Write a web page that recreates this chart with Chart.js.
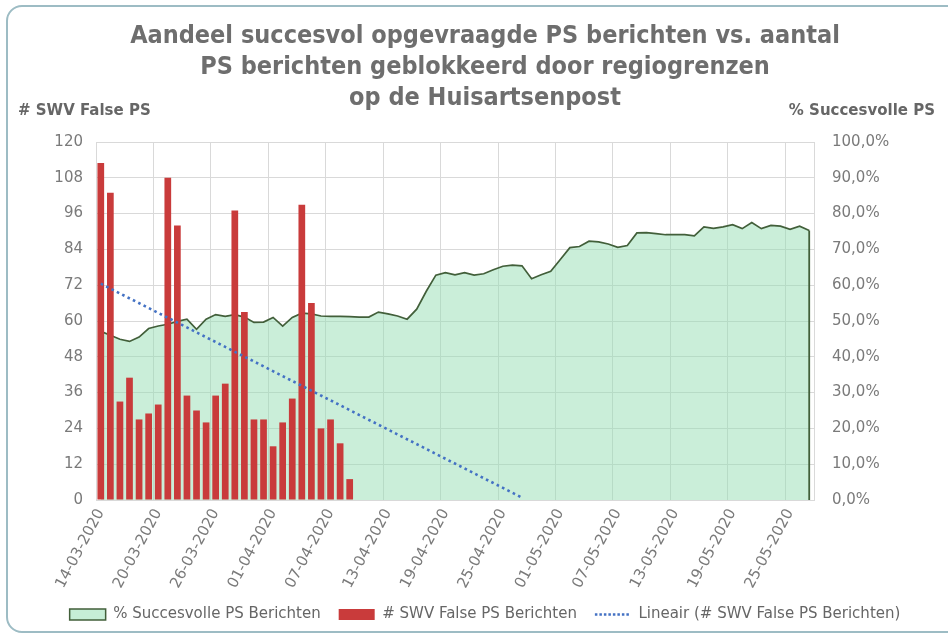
<!DOCTYPE html>
<html><head><meta charset="utf-8">
<script src="https://cdn.jsdelivr.net/npm/chart.js@4.4.1/dist/chart.umd.min.js"></script>
<style>
html,body{margin:0;padding:0;background:#fff;overflow:hidden;}
#wrap{position:relative;width:948px;height:638px;overflow:hidden;}
#frame{position:absolute;left:6px;top:5px;width:970px;height:628px;border:2px solid #9dbcc4;border-radius:16px;box-sizing:border-box;}
canvas{position:absolute;left:0;top:0;}
</style></head>
<body><div id="wrap"><div id="frame"></div><canvas id="c" width="948" height="638"></canvas></div>
<script>
const titleLines = ["Aandeel succesvol opgevraagde PS berichten vs. aantal", "PS berichten geblokkeerd door regiogrenzen", "op de Huisartsenpost"];
const axisTitles = ["# SWV False PS", "% Succesvolle PS"];
const seriesLabels = ["% Succesvolle PS Berichten", "# SWV False PS Berichten", "Lineair (# SWV False PS Berichten)"];
const dates = [
 "14-03-2020","15-03-2020","16-03-2020","17-03-2020","18-03-2020","19-03-2020","20-03-2020","21-03-2020","22-03-2020","23-03-2020",
 "24-03-2020","25-03-2020","26-03-2020","27-03-2020","28-03-2020","29-03-2020","30-03-2020","31-03-2020","01-04-2020","02-04-2020",
 "03-04-2020","04-04-2020","05-04-2020","06-04-2020","07-04-2020","08-04-2020","09-04-2020","10-04-2020","11-04-2020","12-04-2020",
 "13-04-2020","14-04-2020","15-04-2020","16-04-2020","17-04-2020","18-04-2020","19-04-2020","20-04-2020","21-04-2020","22-04-2020",
 "23-04-2020","24-04-2020","25-04-2020","26-04-2020","27-04-2020","28-04-2020","29-04-2020","30-04-2020","01-05-2020","02-05-2020",
 "03-05-2020","04-05-2020","05-05-2020","06-05-2020","07-05-2020","08-05-2020","09-05-2020","10-05-2020","11-05-2020","12-05-2020",
 "13-05-2020","14-05-2020","15-05-2020","16-05-2020","17-05-2020","18-05-2020","19-05-2020","20-05-2020","21-05-2020","22-05-2020",
 "23-05-2020","24-05-2020","25-05-2020","26-05-2020","27-05-2020"
];
const swvFalse = [113,103,33,41,27,29,32,108,92,35,30,26,35,39,97,63,27,27,18,26,34,99,66,24,27,19,7];
const pctSucces = [
 47.1,46.0,44.9,44.3,45.5,47.9,48.6,49.1,49.9,50.5,
 47.7,50.5,51.8,51.3,51.8,51.1,49.6,49.7,51.0,48.6,
 51.0,52.2,52.0,51.4,51.3,51.3,51.2,51.1,51.1,52.5,
 52.0,51.4,50.5,53.3,58.3,62.8,63.5,62.9,63.5,62.8,
 63.2,64.3,65.3,65.6,65.4,61.8,62.9,63.9,67.2,70.5,
 70.8,72.3,72.1,71.5,70.6,71.1,74.6,74.7,74.4,74.1,
 74.1,74.1,73.8,76.3,75.9,76.3,76.9,75.8,77.5,75.8,
 76.7,76.5,75.6,76.5,75.3
];
// trend line: value on the first day and value at day 44 (near zero)
const trendIdx = [0, 44];
const trendVal = [72.5, 0.8];
const tickEvery = 6;

const barData = dates.map((d, i) => (i < swvFalse.length ? swvFalse[i] : null));
const trendData = dates.map(() => null);
trendIdx.forEach((k, j) => { trendData[k] = trendVal[j]; });

const FONT = '"DejaVu Sans", Verdana, sans-serif';
const TXT = '#7a7a7a';
const GRID = '#d9d9d9';
const LINE_GREEN = '#425f3a';

const extras = {
  id: 'extras',
  afterDatasetDraw(chart, args) {
    if (args.index !== 0) return;
    const pts = args.meta.data;
    const last = pts[pts.length - 1];
    const y0 = chart.scales.y1.getPixelForValue(0);
    const ctx = chart.ctx;
    ctx.save();
    ctx.strokeStyle = LINE_GREEN; ctx.lineWidth = 1.8;
    ctx.beginPath(); ctx.moveTo(last.x, last.y); ctx.lineTo(last.x, y0); ctx.stroke();
    ctx.restore();
  },
  afterDraw(chart) {
    const ctx = chart.ctx;
    ctx.save();
    ctx.font = 'bold 15px ' + FONT;
    ctx.fillStyle = '#666666';
    ctx.textBaseline = 'middle';
    ctx.textAlign = 'left'; ctx.fillText(axisTitles[0], 18, 111);
    ctx.textAlign = 'right'; ctx.fillText(axisTitles[1], 935, 111);
    ctx.restore();
  }
};

new Chart(document.getElementById('c'), {
  data: {
    labels: dates,
    datasets: [
      { type: 'line', label: seriesLabels[0], data: pctSucces, yAxisID: 'y1', order: 3,
        fill: 'origin', backgroundColor: 'rgba(150,222,180,0.5)', borderColor: LINE_GREEN,
        borderWidth: 1.7, pointRadius: 0, tension: 0 },
      { type: 'bar', label: seriesLabels[1], data: barData, yAxisID: 'y', order: 2,
        backgroundColor: '#c93b3b', barPercentage: 0.7, categoryPercentage: 1 },
      { type: 'line', label: seriesLabels[2], data: trendData, yAxisID: 'y', order: 1,
        spanGaps: true, borderColor: '#4472c4', borderWidth: 2.6, borderDash: [2.6, 3.4],
        pointRadius: 0, fill: false }
    ]
  },
  options: {
    responsive: false, animation: false, devicePixelRatio: 1,
    layout: { padding: { left: 32, right: 10, top: 21, bottom: 6 } },
    plugins: {
      tooltip: { enabled: false },
      title: { display: true, text: titleLines, color: '#6e6e6e',
        font: { family: '"DejaVu Sans Condensed", "Liberation Sans Narrow", ' + FONT, size: 25, weight: 'bold', lineHeight: 1.24 },
        padding: { top: 0, bottom: 28 } },
      legend: { position: 'bottom',
        labels: { usePointStyle: true, pointStyleWidth: 36, boxHeight: 11, padding: 18, color: '#666666',
          font: { family: FONT, size: 15 },
          generateLabels(chart) {
            const st = [
              { fillStyle: '#c6eed6', strokeStyle: LINE_GREEN, lineWidth: 1.5, pointStyle: 'rect', lineDash: [] },
              { fillStyle: '#c93b3b', strokeStyle: '#c93b3b', lineWidth: 0, pointStyle: 'rect', lineDash: [] },
              { fillStyle: 'rgba(0,0,0,0)', strokeStyle: '#4472c4', lineWidth: 2.5, pointStyle: 'line', lineDash: [2.5, 2] }
            ];
            return chart.data.datasets.map((ds, i) => Object.assign({ text: ds.label, datasetIndex: i, hidden: false, fontColor: '#666666' }, st[i]));
          } } }
    },
    scales: {
      x: { offset: true,
        grid: { offset: true, drawTicks: false, color: (c) => (c.index % tickEvery === 0 ? GRID : 'rgba(0,0,0,0)') },
        border: { display: true, color: GRID },
        ticks: { autoSkip: false, minRotation: 62, maxRotation: 62, padding: 6, color: TXT,
          font: { family: FONT, size: 15 },
          callback: (v, i) => (i % tickEvery === 0 ? dates[i] : '') },
        afterFit(s) { s.height = 89; } },
      y: { position: 'left', min: 0, max: 120,
        grid: { color: GRID, drawTicks: false }, border: { display: false },
        ticks: { stepSize: 12, padding: 13, color: TXT, font: { family: FONT, size: 15 } },
        afterFit(s) { s.width = 64; } },
      y1: { position: 'right', min: 0, max: 100,
        grid: { drawOnChartArea: false, drawTicks: false }, border: { display: true, color: GRID },
        ticks: { stepSize: 10, padding: 18, color: TXT, font: { family: FONT, size: 15 },
          callback: (v) => v.toFixed(1).replace('.', ',') + '%' },
        afterFit(s) { s.width = 124; } }
    }
  },
  plugins: [extras]
});
</script>
</body></html>
